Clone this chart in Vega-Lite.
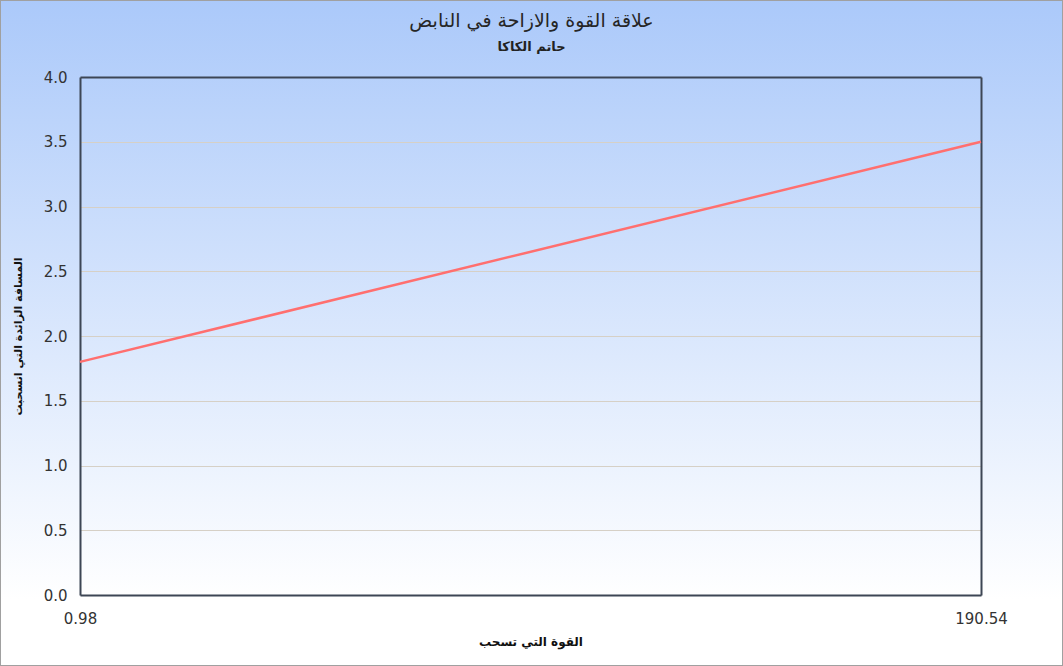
{
  "$schema": "https://vega.github.io/schema/vega-lite/v6.json",
  "width": 1063,
  "height": 666,
  "autosize": {"type": "none"},
  "padding": 0,
  "background": "#ffffff",
  "config": {
    "font": "DejaVu Sans",
    "view": {
      "fill": {"gradient": "linear", "x1": 0, "y1": 0, "x2": 0, "y2": 1, "stops": [{"offset": 0, "color": "#abc9fa"}, {"offset": 0.9, "color": "#ffffff"}, {"offset": 1, "color": "#ffffff"}]},
      "stroke": "#a0a0a0",
      "strokeWidth": 2
    }
  },
  "title": {
    "text": "علاقة القوة والازاحة في النابض",
    "subtitle": "حاتم الكاكا",
    "anchor": "middle",
    "frame": "group",
    "offset": -54,
    "font": "DejaVu Sans",
    "fontSize": 19,
    "fontWeight": "normal",
    "color": "#262626",
    "subtitleFont": "DejaVu Sans",
    "subtitleFontSize": 13,
    "subtitleFontWeight": "bold",
    "subtitleColor": "#222222",
    "subtitlePadding": 10
  },
  "data": {"values": [{"force": 0.98, "dist": 1.8}, {"force": 190.54, "dist": 3.5}]},
  "layer": [
    {
      "mark": {"type": "line", "color": "#ff6f6f", "strokeWidth": 2.5},
      "encoding": {
        "x": {
          "field": "force", "type": "quantitative",
          "scale": {"domain": [0.98, 190.54], "range": [80, 981], "nice": false, "zero": false},
          "axis": {
            "orient": "bottom", "offset": -71, "values": [0.98, 190.54], "format": ".2f",
            "labelFlush": false, "grid": false, "ticks": false, "tickSize": 0,
            "domainColor": "#3d4655", "domainWidth": 2,
            "labelPadding": 16, "labelFontSize": 15, "labelColor": "#333333", "labelFont": "DejaVu Sans",
            "title": "القوة التي تسحب", "titleFont": "DejaVu Sans", "titleFontSize": 12, "titleFontWeight": "bold",
            "titleColor": "#111111", "titleBaseline": "middle", "titleY": 46
          }
        },
        "y": {
          "field": "dist", "type": "quantitative",
          "scale": {"domain": [0, 4], "range": [595, 77], "nice": false, "zero": false},
          "axis": {
            "orient": "left", "offset": -80, "values": [0, 0.5, 1, 1.5, 2, 2.5, 3, 3.5, 4], "format": ".1f",
            "grid": true, "gridColor": "#d6d0c6", "gridWidth": 1, "ticks": false, "tickSize": 0,
            "domainColor": "#3d4655", "domainWidth": 2,
            "labelPadding": 13, "labelFontSize": 15, "labelColor": "#333333", "labelFont": "DejaVu Sans",
            "title": "المسافة الزائدة التي انسحبت", "titleFont": "DejaVu Sans", "titleFontSize": 11, "titleFontWeight": "bold",
            "titleColor": "#111111", "titleBaseline": "middle", "titleAngle": -90, "titleX": -62
          }
        }
      }
    },
    {
      "mark": {"type": "line", "opacity": 0},
      "encoding": {
        "x": {
          "field": "force", "type": "quantitative",
          "axis": {"orient": "top", "offset": -77, "labels": false, "ticks": false, "grid": false, "title": null, "domainColor": "#3d4655", "domainWidth": 2}
        },
        "y": {
          "field": "dist", "type": "quantitative",
          "axis": {"orient": "right", "offset": -82, "labels": false, "ticks": false, "grid": false, "title": null, "domainColor": "#3d4655", "domainWidth": 2}
        }
      }
    }
  ],
  "resolve": {"axis": {"x": "independent", "y": "independent"}}
}
